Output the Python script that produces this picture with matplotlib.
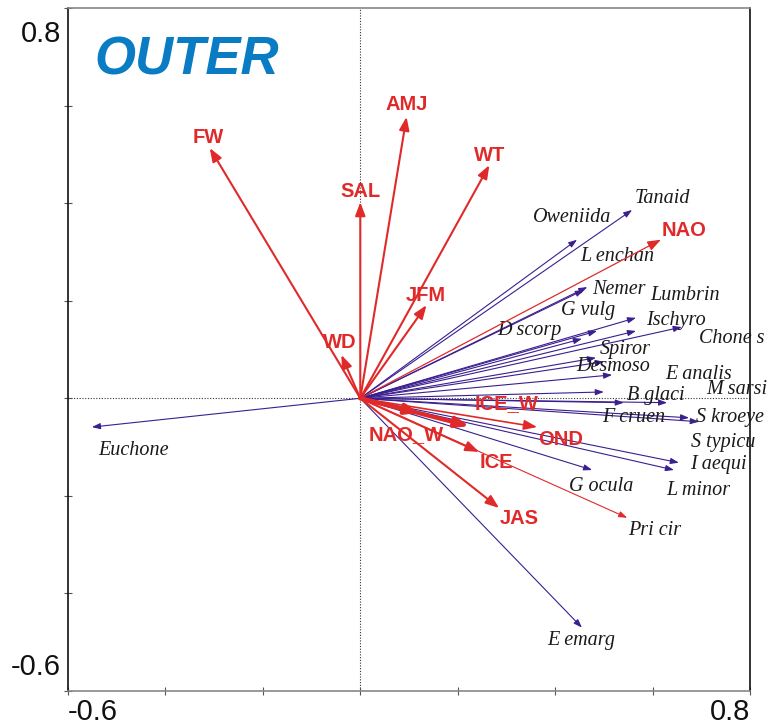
import matplotlib
matplotlib.use('Agg')
import matplotlib.pyplot as plt
from matplotlib.transforms import ScaledTranslation

# environmental variables (red arrows): tip and label position
env_names = ['FW', 'SAL', 'AMJ', 'WT', 'JFM', 'WD', 'NAO', 'ICE_W', 'NAO_W', 'OND', 'ICE', 'JAS']
env_x = [-0.309, 0.0, 0.095, 0.265, 0.136, -0.039, 0.617, 0.224, 0.121, 0.363, 0.244, 0.285]
env_y = [0.513, 0.402, 0.577, 0.478, 0.191, 0.089, 0.325, -0.057, -0.030, -0.059, -0.110, -0.225]
env_lx = [-0.313, 0.0, 0.095, 0.265, 0.134, -0.043, 0.664, 0.300, 0.095, 0.412, 0.279, 0.326]
env_ly = [0.534, 0.423, 0.603, 0.497, 0.210, 0.114, 0.343, -0.011, -0.075, -0.085, -0.132, -0.247]
env_lw = [1.5, 1.5, 1.5, 1.5, 1.5, 1.5, 0.9, 3.0, 3.0, 1.2, 1.5, 1.5]

# species (blue arrows): tip and label position
sp_names = ['Euchone', 'Tanaid', 'Oweniida', 'L enchan', 'Nemer', 'G vulg', 'D scorp',
            'Lumbrin', 'Ischyro', 'Chone s', 'Spiror', 'Desmoso', 'E analis', 'B glaci',
            'M sarsi', 'F cruen', 'S kroeye', 'S typicu', 'I aequi', 'L minor', 'G ocula',
            'Pri cir', 'E emarg']
sp_x = [-0.551, 0.558, 0.445, 0.459, 0.466, 0.486, 0.455, 0.566, 0.566, 0.660, 0.484,
        0.500, 0.517, 0.500, 0.630, 0.541, 0.695, 0.675, 0.654, 0.644, 0.476, 0.548, 0.455]
sp_y = [-0.059, 0.386, 0.325, 0.222, 0.228, 0.138, 0.122, 0.165, 0.138, 0.146, 0.083,
        0.075, 0.048, 0.013, -0.009, -0.009, -0.048, -0.040, -0.132, -0.147, -0.147,
        -0.245, -0.470]
sp_lx = [-0.465, 0.621, 0.435, 0.527, 0.531, 0.468, 0.347, 0.666, 0.648, 0.763, 0.543,
         0.519, 0.695, 0.607, 0.773, 0.562, 0.759, 0.746, 0.736, 0.693, 0.494, 0.605, 0.453]
sp_ly = [-0.106, 0.409, 0.370, 0.290, 0.224, 0.179, 0.138, 0.210, 0.159, 0.122, 0.101,
         0.066, 0.048, 0.005, 0.017, -0.040, -0.040, -0.091, -0.136, -0.188, -0.180,
         -0.270, -0.497]

red = '#e02a2a'
blue = '#3b1f8f'

fig = plt.figure(figsize=(7.78, 7.27), dpi=100)
ax = fig.add_axes([0.0874, 0.0495, 0.8766, 0.9395])
ax.set_xlim(-0.6, 0.8)
ax.set_ylim(-0.6, 0.8)

ax.axhline(0, color='#333333', lw=0.8, ls=(0, (1, 1.5)), zorder=1)
ax.axvline(0, color='#333333', lw=0.8, ls=(0, (1, 1.5)), zorder=1)

# species arrows
for i in range(len(sp_names)):
    c = red if sp_names[i] == 'Pri cir' else blue
    ax.annotate('', xy=(sp_x[i], sp_y[i]), xytext=(0, 0),
                arrowprops=dict(arrowstyle='-|>,head_length=0.5,head_width=0.18',
                                color=c, lw=0.8, shrinkA=0, shrinkB=0), zorder=2)
    ax.text(sp_lx[i], sp_ly[i], sp_names[i], ha='center', va='center',
            family='Liberation Serif', style='italic', fontsize=14.5, color='#1a1a1a')

# environmental arrows
for i in range(len(env_names)):
    ax.annotate('', xy=(env_x[i], env_y[i]), xytext=(0, 0),
                arrowprops=dict(arrowstyle='-|>,head_length=0.8,head_width=0.3',
                                color=red, lw=env_lw[i], shrinkA=0, shrinkB=0), zorder=3)
    ax.text(env_lx[i], env_ly[i], env_names[i], ha='center', va='center',
            family='Liberation Sans', weight='bold', fontsize=14.5, color=red, zorder=4)

ax.text(-0.545, 0.693, 'OUTER', family='Liberation Sans', weight='bold', style='italic',
        fontsize=38, color='#0a7cc4', ha='left', va='center')

ticks = [-0.6, -0.4, -0.2, 0.0, 0.2, 0.4, 0.6, 0.8]
labels = ['-0.6', '', '', '', '', '', '', '0.8']
ax.set_xticks(ticks)
ax.set_xticklabels(labels, family='Liberation Sans', fontsize=21)
ax.set_yticks(ticks)
ax.set_yticklabels(labels, family='Liberation Sans', fontsize=21)
ax.tick_params(direction='inout', length=6, width=0.8, pad=2, colors='#555555',
               labelcolor='#111111')
xl = ax.get_xticklabels()
xl[0].set_ha('left')
xl[-1].set_ha('right')
yl = ax.get_yticklabels()
yl[0].set_va('bottom')
yl[0].set_transform(yl[0].get_transform() + ScaledTranslation(0, 0.1, fig.dpi_scale_trans))
yl[-1].set_va('top')
yl[-1].set_transform(yl[-1].get_transform() + ScaledTranslation(0, -0.12, fig.dpi_scale_trans))

ax.spines['top'].set_color('#888888')
ax.spines['bottom'].set_color('#888888')
ax.spines['left'].set_color('#111111')
ax.spines['right'].set_color('#111111')
for s in ax.spines.values():
    s.set_linewidth(1.2)

fig.savefig('out.png', dpi=100)
